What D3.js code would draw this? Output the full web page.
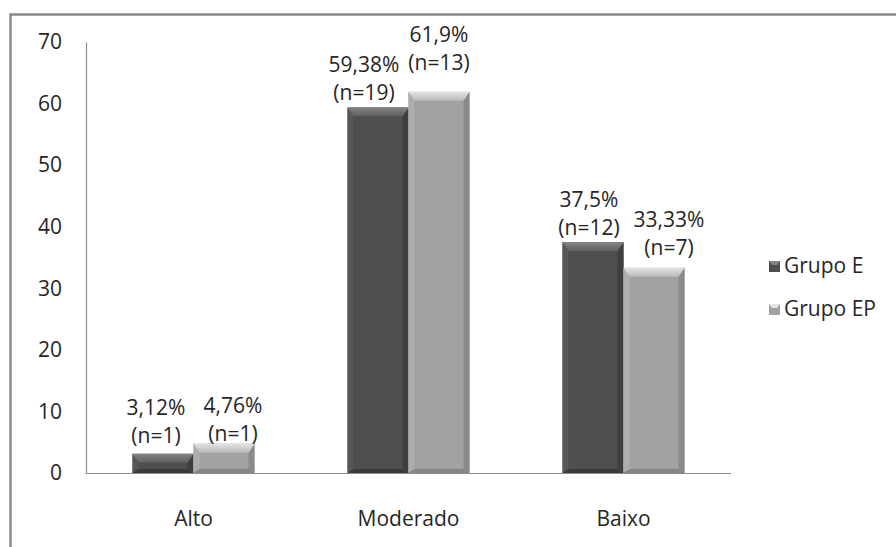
<!DOCTYPE html>
<html><head><meta charset="utf-8">
<script src="https://cdn.jsdelivr.net/npm/d3@7"></script>
<style>body{margin:0;background:#fff}svg{display:block}text{font-family:"Open Sans",sans-serif;fill:#262626}</style>
</head><body>
<script>
const categories = ["Alto", "Moderado", "Baixo"];
const seriesNames = ["Grupo E", "Grupo EP"];
const grupoE = [3.12, 59.38, 37.5];
const grupoEP = [4.76, 61.9, 33.33];
const nE = [1, 19, 12];
const nEP = [1, 13, 7];
const pctE = ["3,12%", "59,38%", "37,5%"];
const pctEP = ["4,76%", "61,9%", "33,33%"];
const yTicks = [0, 10, 20, 30, 40, 50, 60, 70];

// label nudges (style, not data): [dx, dy] per category, per series
const nudgeE = [[-7, -3], [-14, 1], [-4, 1]];
const nudgeEP = [[9, 5], [0, -14], [15, -5]];

const W = 896, H = 547;
const FS = "21px";
const svg = d3.select("body").append("svg").attr("width", W).attr("height", H);

// frame
svg.append("rect").attr("x", 10.5).attr("y", 14.5).attr("width", W + 20).attr("height", H + 20)
  .attr("fill", "none").attr("stroke", "#8a8a8a").attr("stroke-width", 2.5);

const x0 = 86, x1 = 731, yTop = 42, yBot = 473;
const y = d3.scaleLinear().domain([0, 70]).range([yBot, yTop]);
const xb = d3.scaleBand().domain(categories).range([x0, x1]).paddingInner(0.4326).paddingOuter(0.2163);
const xs = d3.scaleBand().domain(seriesNames).range([0, xb.bandwidth()]).padding(0);

// y axis
const yAxis = d3.axisLeft(y).tickValues(yTicks).tickSize(0).tickPadding(24).tickFormat(d3.format("d"));
const ga = svg.append("g").attr("transform", `translate(${x0},0)`).call(yAxis);
ga.select(".domain").attr("stroke", "#8c8c8c").attr("stroke-width", 1.2);
ga.selectAll("text").style("font-size", FS).attr("font-family", "Open Sans").attr("fill", "#262626");

// x axis
const xAxis = d3.axisBottom(xb).tickSize(0).tickPadding(38);
const gx = svg.append("g").attr("transform", `translate(0,${yBot})`).call(xAxis);
gx.select(".domain").attr("stroke", "#8c8c8c").attr("stroke-width", 1.2).attr("d", `M${x0},0.5H${x1}`);
gx.selectAll("text").style("font-size", FS).attr("font-family", "Open Sans").attr("fill", "#262626");

const palette = {
  "Grupo E": {body: "#4e4e4e", top1: "#858585", top2: "#5e5e5e", left: "#575757", right: "#3f3f3f", bottom: "#3a3a3a"},
  "Grupo EP": {body: "#a2a2a2", top1: "#e4e4e4", top2: "#b8b8b8", left: "#adadad", right: "#8a8a8a", bottom: "#858585"}
};

const defs = svg.append("defs");
seriesNames.forEach((s, i) => {
  const g = defs.append("linearGradient").attr("id", "top" + i).attr("x1", 0).attr("y1", 0).attr("x2", 0).attr("y2", 1);
  g.append("stop").attr("offset", "0%").attr("stop-color", palette[s].top1);
  g.append("stop").attr("offset", "100%").attr("stop-color", palette[s].top2);
});

function bevelBar(g, X0, X1, YT, YB, s, idx) {
  const c = palette[s];
  const b = Math.min(9, (YB - YT) / 2);
  const bs = 6;
  const bb = 4;
  g.append("rect").attr("x", X0).attr("y", YT).attr("width", X1 - X0).attr("height", YB - YT).attr("fill", c.body);
  g.append("polygon").attr("points", `${X0},${YT} ${X0 + bs},${YT + b} ${X0 + bs},${YB - bb} ${X0},${YB}`).attr("fill", c.left);
  g.append("polygon").attr("points", `${X1},${YT} ${X1 - bs},${YT + b} ${X1 - bs},${YB - bb} ${X1},${YB}`).attr("fill", c.right);
  g.append("polygon").attr("points", `${X0},${YB} ${X0 + bs},${YB - bb} ${X1 - bs},${YB - bb} ${X1},${YB}`).attr("fill", c.bottom);
  g.append("polygon").attr("points", `${X0},${YT} ${X1},${YT} ${X1 - bs},${YT + b} ${X0 + bs},${YT + b}`).attr("fill", `url(#top${idx})`);
}

const series = [
  {name: "Grupo E", vals: grupoE, n: nE, pct: pctE, nudge: nudgeE},
  {name: "Grupo EP", vals: grupoEP, n: nEP, pct: pctEP, nudge: nudgeEP}
];

const bars = svg.append("g");
const labels = svg.append("g");
series.forEach((s, si) => {
  categories.forEach((c, ci) => {
    const X0 = xb(c) + xs(s.name);
    const X1 = X0 + xs.bandwidth();
    const v = s.vals[ci];
    bevelBar(bars, X0, X1, y(v), y(0), s.name, si);
    const cx = (X0 + X1) / 2 + s.nudge[ci][0];
    const base2 = y(v) - 8 + s.nudge[ci][1];
    const t = labels.append("text").attr("text-anchor", "middle").style("font-size", FS);
    t.append("tspan").attr("x", cx).attr("y", base2 - 28).text(s.pct[ci]);
    t.append("tspan").attr("x", cx).attr("y", base2).text(`(n=${s.n[ci]})`);
  });
});

// legend
const lg = svg.append("g");
seriesNames.forEach((s, i) => {
  const ly = 266 + i * 43;
  const c = palette[s];
  const X0 = 769, X1 = 780, YT = ly - 5, YB = ly + 6;
  lg.append("rect").attr("x", X0).attr("y", YT).attr("width", 11).attr("height", 11).attr("fill", c.body);
  lg.append("polygon").attr("points", `${X0},${YT} ${X1},${YT} ${X1 - 3},${YT + 4} ${X0 + 3},${YT + 4}`).attr("fill", c.top1);
  lg.append("text").attr("x", 784).attr("y", ly + 7).style("font-size", FS).text(s);
});
</script>
</body></html>
